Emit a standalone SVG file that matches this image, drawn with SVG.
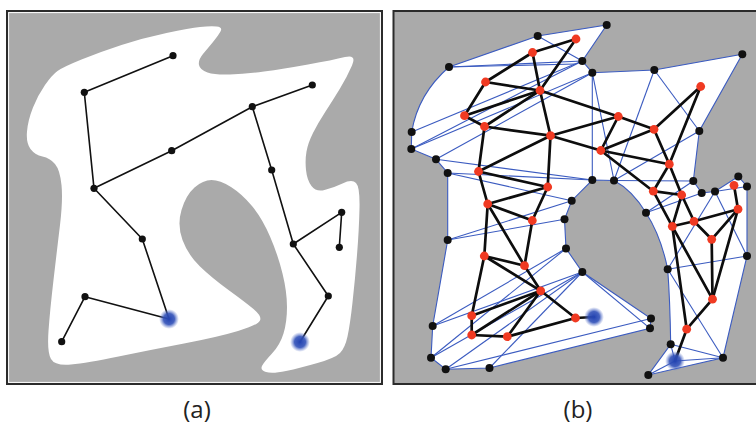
<svg xmlns="http://www.w3.org/2000/svg" width="756" height="430" viewBox="0 0 756 430">
<style>
.bg{fill:#aaaaaa;stroke:#2b2b2b;stroke-width:2}
.free{fill:#ffffff}
.ea{stroke:#111;stroke-width:1.6;fill:none;stroke-linecap:round}
.eb{stroke:#0d0d0d;stroke-width:2.7;fill:none;stroke-linecap:round}
.bl{stroke:#3b5bc0;stroke-width:1.1;fill:none}
.na{fill:#111}
.nb{fill:#111}
.nr{fill:#f03a22}
.lbl{font-family:"Open Sans","Liberation Sans",sans-serif;font-size:24px;fill:#222;text-anchor:middle}
</style>
<defs>
<radialGradient id="blob">
<stop offset="0" stop-color="#2444b2" stop-opacity="1"/>
<stop offset="0.55" stop-color="#3050b8" stop-opacity="0.9"/>
<stop offset="1" stop-color="#6a82d0" stop-opacity="0"/>
</radialGradient>
</defs>
<rect width="756" height="430" fill="#ffffff"/>

<!-- Panel (a) -->
<g id="panel-a">
<rect class="bg" x="7" y="11" width="375" height="373"/>
<rect x="8.6" y="12.6" width="371.8" height="369.8" fill="none" stroke="#ffffff" stroke-width="1"/>
<path class="free" d="M 216.5,26.5 Q 223,27 220.5,31.5 Q 218,36 213,42 Q 208,48 203,54 Q 198,60 199,65 Q 200,70 207.5,72.5 Q 215,75 230,74.5 Q 245,74 264,71.5 Q 283,69 308,64.5 Q 333,60 345,57 Q 357,54 352,65.5 Q 347,77 340,88.5 Q 333,100 325.5,111.5 Q 318,123 313,133 Q 308,143 306.5,151.5 Q 305,160 306,170 Q 307,180 311.5,186 Q 316,192 324.5,190 Q 333,188 342.5,183.5 Q 352,179 356,183 Q 360,187 359.5,208.5 Q 359,230 357,255 Q 355,280 352.5,302.5 Q 350,325 347.5,336.5 Q 345,348 340,353 Q 335,358 317.5,363 Q 300,368 286,371 Q 272,374 266,372 Q 260,370 262,366 Q 264,362 272,353.5 Q 280,345 283.5,333.5 Q 287,322 287,307 Q 287,292 282.5,273.5 Q 278,255 270,236.5 Q 262,218 252,206 Q 242,194 231,187 Q 220,180 211.5,180 Q 203,180 194.5,187.5 Q 186,195 181.5,210 Q 177,225 182.5,240 Q 188,255 200,266.5 Q 212,278 228.5,290 Q 245,302 253.5,309 Q 262,316 260,320.5 Q 258,325 238,331 Q 218,337 184,343.5 Q 150,350 118.5,356.5 Q 87,363 71,364.5 Q 55,366 51,359 Q 47,352 48.5,331 Q 50,310 53.5,280 Q 57,250 60,225 Q 63,200 61.5,185 Q 60,170 55,164 Q 50,158 42.5,156.5 Q 35,155 30.5,149 Q 26,143 27,131.5 Q 28,120 33,107.5 Q 38,95 45,85 Q 52,75 57.5,71 Q 63,67 81.5,59.5 Q 100,52 121.5,45 Q 143,38 166.5,33 Q 190,28 200,27 Q 210,26 216.5,26.5 Z"/>
<g id="connectors-a" class="ea">
<line x1="173" y1="55.7" x2="84.3" y2="92.3"/>
<line x1="84.3" y1="92.3" x2="94" y2="188.3"/>
<line x1="94" y1="188.3" x2="171.7" y2="150.7"/>
<line x1="171.7" y1="150.7" x2="252.3" y2="106.7"/>
<line x1="252.3" y1="106.7" x2="312.3" y2="85"/>
<line x1="252.3" y1="106.7" x2="271.7" y2="170"/>
<line x1="271.7" y1="170" x2="293.3" y2="244"/>
<line x1="293.3" y1="244" x2="341.7" y2="212.3"/>
<line x1="341.7" y1="212.3" x2="339.3" y2="247.3"/>
<line x1="293.3" y1="244" x2="328.3" y2="296"/>
<line x1="328.3" y1="296" x2="300" y2="342"/>
<line x1="94" y1="188.3" x2="142.3" y2="239"/>
<line x1="142.3" y1="239" x2="169" y2="319"/>
<line x1="169" y1="319" x2="85" y2="296.7"/>
<line x1="85" y1="296.7" x2="61.7" y2="341.7"/>
</g>
<g id="nodes-a" class="na">
<circle id="a1" cx="173" cy="55.7" r="3.6"/>
<circle id="a2" cx="84.3" cy="92.3" r="3.6"/>
<circle id="a3" cx="312.3" cy="85" r="3.6"/>
<circle id="a4" cx="252.3" cy="106.7" r="3.6"/>
<circle id="a5" cx="171.7" cy="150.7" r="3.6"/>
<circle id="a6" cx="94" cy="188.3" r="3.6"/>
<circle id="a7" cx="271.7" cy="170" r="3.6"/>
<circle id="a8" cx="142.3" cy="239" r="3.6"/>
<circle id="a9" cx="341.7" cy="212.3" r="3.6"/>
<circle id="a10" cx="339.3" cy="247.3" r="3.6"/>
<circle id="a11" cx="293.3" cy="244" r="3.6"/>
<circle id="a12" cx="328.3" cy="296" r="3.6"/>
<circle id="a13" cx="85" cy="296.7" r="3.6"/>
<circle id="a14" cx="61.7" cy="341.7" r="3.6"/>
<circle id="a-start" cx="169" cy="319" r="10" fill="url(#blob)"/>
<circle id="a-goal" cx="300" cy="342" r="10" fill="url(#blob)"/>
</g>
</g>

<!-- Panel (b) -->
<g id="panel-b">
<rect class="bg" x="393.5" y="11" width="380" height="373" stroke-width="2.5"/>
<path class="free" d="M 411.7,132 Q 418,94 449,67 L 537.7,36 L 606.7,25 L 582.3,61 L 592.3,72.7 L 654.3,70 L 742.3,54.3 L 699.3,131 L 693.3,181 L 701.7,193 L 715,191.5 L 738.3,176.5 L 747,186.5 L 747,256 L 723,357.7 L 648.3,375 L 670.7,344.3 Q 670,300 667.7,269.3 Q 661,236 646,212.7 Q 632,190 614,180.5 L 592.3,180 L 571.7,200.7 L 564.5,219.3 L 566,248.5 L 582.3,272 L 651,318.5 L 650,328.3 L 489.5,368 L 445.7,369.3 L 431,357.7 L 432.7,326 L 447.7,240 L 447.7,173 L 436,159.3 L 411.3,149 Z"/>
<g id="connectors-b">
<path class="bl" d="M 411.7,132 Q 418,94 449,67 L 537.7,36 L 606.7,25 L 582.3,61 L 592.3,72.7 L 654.3,70 L 742.3,54.3 L 699.3,131 L 693.3,181 L 701.7,193 L 715,191.5 L 738.3,176.5 L 747,186.5 L 747,256 L 723,357.7 L 648.3,375 L 670.7,344.3 Q 670,300 667.7,269.3 Q 661,236 646,212.7 Q 632,190 614,180.5 L 592.3,180 L 571.7,200.7 L 564.5,219.3 L 566,248.5 L 582.3,272 L 651,318.5 L 650,328.3 L 489.5,368 L 445.7,369.3 L 431,357.7 L 432.7,326 L 447.7,240 L 447.7,173 L 436,159.3 L 411.3,149 Z"/>
<g class="bl">
<line x1="537.7" y1="36" x2="582.3" y2="61"/>
<line x1="449" y1="67" x2="582.3" y2="61"/>
<line x1="449" y1="67" x2="576" y2="64"/>
<line x1="411.7" y1="132" x2="582.3" y2="61"/>
<line x1="411.3" y1="149" x2="582.3" y2="61"/>
<line x1="411.3" y1="149" x2="592.3" y2="72.7"/>
<line x1="436" y1="159.3" x2="592.3" y2="72.7"/>
<line x1="592.3" y1="72.7" x2="592.3" y2="180"/>
<line x1="592.3" y1="72.7" x2="614" y2="180.5"/>
<line x1="654.3" y1="70" x2="614" y2="180.5"/>
<line x1="654.3" y1="70" x2="699.3" y2="131"/>
<line x1="699.3" y1="131" x2="614" y2="180.5"/>
<line x1="436" y1="159.3" x2="592.3" y2="180"/>
<line x1="447.7" y1="173" x2="592.3" y2="180"/>
<line x1="447.7" y1="173" x2="571.7" y2="200.7"/>
<line x1="614" y1="180.5" x2="693.3" y2="181"/>
<line x1="646" y1="212.7" x2="693.3" y2="181"/>
<line x1="646" y1="212.7" x2="701.7" y2="193"/>
<line x1="667.7" y1="269.3" x2="715" y2="191.5"/>
<line x1="715" y1="191.5" x2="747" y2="256"/>
<line x1="715" y1="191.5" x2="747" y2="186.5"/>
<line x1="667.7" y1="269.3" x2="747" y2="256"/>
<line x1="667.7" y1="269.3" x2="723" y2="357.7"/>
<line x1="670.7" y1="344.3" x2="723" y2="357.7"/>
<line x1="675" y1="361" x2="723" y2="357.7"/>
<line x1="648.3" y1="375" x2="675" y2="361"/>
<line x1="670.7" y1="344.3" x2="675" y2="361"/>
<line x1="447.7" y1="240" x2="571.7" y2="200.7"/>
<line x1="447.7" y1="240" x2="564.5" y2="219.3"/>
<line x1="432.7" y1="326" x2="566" y2="248.5"/>
<line x1="432.7" y1="326" x2="582.3" y2="272"/>
<line x1="431" y1="357.7" x2="566" y2="248.5"/>
<line x1="431" y1="357.7" x2="582.3" y2="272"/>
<line x1="445.7" y1="369.3" x2="582.3" y2="272"/>
<line x1="489.5" y1="368" x2="582.3" y2="272"/>
<line x1="445.7" y1="369.3" x2="651" y2="318.5"/>
<line x1="582.3" y1="272" x2="650" y2="328.3"/>
</g>
<g class="eb">
<line x1="576" y1="39" x2="532.5" y2="52.5"/>
<line x1="576" y1="39" x2="540" y2="90.5"/>
<line x1="532.5" y1="52.5" x2="540" y2="90.5"/>
<line x1="532.5" y1="52.5" x2="485.5" y2="82"/>
<line x1="485.5" y1="82" x2="540" y2="90.5"/>
<line x1="485.5" y1="82" x2="464.5" y2="115.7"/>
<line x1="464.5" y1="115.7" x2="540" y2="90.5"/>
<line x1="484.5" y1="126.5" x2="540" y2="90.5"/>
<line x1="464.5" y1="115.7" x2="484.5" y2="126.5"/>
<line x1="540" y1="90.5" x2="550.5" y2="135.7"/>
<line x1="540" y1="90.5" x2="618.3" y2="116.5"/>
<line x1="618.3" y1="116.5" x2="654" y2="129.3"/>
<line x1="484.5" y1="126.5" x2="550.5" y2="135.7"/>
<line x1="484.5" y1="126.5" x2="478.5" y2="171.5"/>
<line x1="550.5" y1="135.7" x2="478.5" y2="171.5"/>
<line x1="550.5" y1="135.7" x2="547.7" y2="187"/>
<line x1="550.5" y1="135.7" x2="600.8" y2="150.5"/>
<line x1="550.5" y1="135.7" x2="618.3" y2="116.5"/>
<line x1="618.3" y1="116.5" x2="600.8" y2="150.5"/>
<line x1="600.8" y1="150.5" x2="654" y2="129.3"/>
<line x1="654" y1="129.3" x2="700.7" y2="86.5"/>
<line x1="700.7" y1="86.5" x2="669.3" y2="164.2"/>
<line x1="654" y1="129.3" x2="669.3" y2="164.2"/>
<line x1="600.8" y1="150.5" x2="669.3" y2="164.2"/>
<line x1="600.8" y1="150.5" x2="653.3" y2="191.2"/>
<line x1="669.3" y1="164.2" x2="653.3" y2="191.2"/>
<line x1="669.3" y1="164.2" x2="681.7" y2="195"/>
<line x1="653.3" y1="191.2" x2="681.7" y2="195"/>
<line x1="478.5" y1="171.5" x2="547.7" y2="187"/>
<line x1="478.5" y1="171.5" x2="487.7" y2="204"/>
<line x1="547.7" y1="187" x2="487.7" y2="204"/>
<line x1="547.7" y1="187" x2="532.3" y2="220.5"/>
<line x1="487.7" y1="204" x2="532.3" y2="220.5"/>
<line x1="487.7" y1="204" x2="484.3" y2="256"/>
<line x1="487.7" y1="204" x2="524.5" y2="265.7"/>
<line x1="532.3" y1="220.5" x2="524.5" y2="265.7"/>
<line x1="484.3" y1="256" x2="524.5" y2="265.7"/>
<line x1="484.3" y1="256" x2="540.7" y2="290.8"/>
<line x1="524.5" y1="265.7" x2="540.7" y2="290.8"/>
<line x1="484.3" y1="256" x2="471.7" y2="315.7"/>
<line x1="471.7" y1="315.7" x2="540.7" y2="290.8"/>
<line x1="471.7" y1="335" x2="540.7" y2="290.8"/>
<line x1="507.3" y1="336.7" x2="540.7" y2="290.8"/>
<line x1="471.7" y1="315.7" x2="471.7" y2="335"/>
<line x1="471.7" y1="335" x2="507.3" y2="336.7"/>
<line x1="540.7" y1="290.8" x2="575.5" y2="318"/>
<line x1="575.5" y1="318" x2="594" y2="317"/>
<line x1="507.3" y1="336.7" x2="575.5" y2="318"/>
<line x1="653.3" y1="191.2" x2="672.3" y2="226.3"/>
<line x1="681.7" y1="195" x2="672.3" y2="226.3"/>
<line x1="681.7" y1="195" x2="694" y2="221.3"/>
<line x1="672.3" y1="226.3" x2="694" y2="221.3"/>
<line x1="694" y1="221.3" x2="738" y2="209.2"/>
<line x1="738" y1="209.2" x2="734" y2="185.3"/>
<line x1="694" y1="221.3" x2="711.7" y2="239.3"/>
<line x1="738" y1="209.2" x2="711.7" y2="239.3"/>
<line x1="711.7" y1="239.3" x2="712.5" y2="299.2"/>
<line x1="738" y1="209.2" x2="712.5" y2="299.2"/>
<line x1="672.3" y1="226.3" x2="712.5" y2="299.2"/>
<line x1="672.3" y1="226.3" x2="686.7" y2="329.2"/>
<line x1="712.5" y1="299.2" x2="686.7" y2="329.2"/>
<line x1="686.7" y1="329.2" x2="675" y2="361"/>
</g>
</g>
<g id="nodes-b">
<g class="nb">
<circle id="b1" cx="606.7" cy="25" r="4"/>
<circle id="b2" cx="537.7" cy="36" r="4"/>
<circle id="b3" cx="449" cy="67" r="4"/>
<circle id="b4" cx="582.3" cy="61" r="4"/>
<circle id="b5" cx="592.3" cy="72.7" r="4"/>
<circle id="b6" cx="654.3" cy="70" r="4"/>
<circle id="b7" cx="742.3" cy="54.3" r="4"/>
<circle id="b8" cx="411.7" cy="132" r="4"/>
<circle id="b9" cx="411.3" cy="149" r="4"/>
<circle id="b10" cx="436" cy="159.3" r="4"/>
<circle id="b11" cx="447.7" cy="173" r="4"/>
<circle id="b12" cx="699.3" cy="131" r="4"/>
<circle id="b13" cx="592.3" cy="180" r="4"/>
<circle id="b14" cx="614" cy="180.5" r="4"/>
<circle id="b15" cx="693.3" cy="181" r="4"/>
<circle id="b16" cx="701.7" cy="193" r="4"/>
<circle id="b17" cx="715" cy="191.5" r="4"/>
<circle id="b18" cx="738.3" cy="176.5" r="4"/>
<circle id="b19" cx="747" cy="186.5" r="4"/>
<circle id="b20" cx="571.7" cy="200.7" r="4"/>
<circle id="b21" cx="564.5" cy="219.3" r="4"/>
<circle id="b22" cx="646" cy="212.7" r="4"/>
<circle id="b23" cx="447.7" cy="240" r="4"/>
<circle id="b24" cx="566" cy="248.5" r="4"/>
<circle id="b25" cx="747" cy="256" r="4"/>
<circle id="b26" cx="667.7" cy="269.3" r="4"/>
<circle id="b27" cx="582.3" cy="272" r="4"/>
<circle id="b28" cx="651" cy="318.5" r="4"/>
<circle id="b29" cx="650" cy="328.3" r="4"/>
<circle id="b30" cx="432.7" cy="326" r="4"/>
<circle id="b31" cx="670.7" cy="344.3" r="4"/>
<circle id="b32" cx="431" cy="357.7" r="4"/>
<circle id="b33" cx="445.7" cy="369.3" r="4"/>
<circle id="b34" cx="489.5" cy="368" r="4"/>
<circle id="b35" cx="723" cy="357.7" r="4"/>
<circle id="b36" cx="648.3" cy="375" r="4"/>
</g>
<g class="nr">
<circle id="r1" cx="576" cy="39" r="4.4"/>
<circle id="r2" cx="532.5" cy="52.5" r="4.4"/>
<circle id="r3" cx="485.5" cy="82" r="4.4"/>
<circle id="r4" cx="540" cy="90.5" r="4.4"/>
<circle id="r5" cx="464.5" cy="115.7" r="4.4"/>
<circle id="r6" cx="484.5" cy="126.5" r="4.4"/>
<circle id="r7" cx="550.5" cy="135.7" r="4.4"/>
<circle id="r8" cx="618.3" cy="116.5" r="4.4"/>
<circle id="r9" cx="700.7" cy="86.5" r="4.4"/>
<circle id="r10" cx="654" cy="129.3" r="4.4"/>
<circle id="r11" cx="600.8" cy="150.5" r="4.4"/>
<circle id="r12" cx="669.3" cy="164.2" r="4.4"/>
<circle id="r13" cx="478.5" cy="171.5" r="4.4"/>
<circle id="r14" cx="547.7" cy="187" r="4.4"/>
<circle id="r15" cx="653.3" cy="191.2" r="4.4"/>
<circle id="r16" cx="681.7" cy="195" r="4.4"/>
<circle id="r17" cx="734" cy="185.3" r="4.4"/>
<circle id="r18" cx="487.7" cy="204" r="4.4"/>
<circle id="r19" cx="532.3" cy="220.5" r="4.4"/>
<circle id="r20" cx="672.3" cy="226.3" r="4.4"/>
<circle id="r21" cx="694" cy="221.3" r="4.4"/>
<circle id="r22" cx="738" cy="209.2" r="4.4"/>
<circle id="r23" cx="711.7" cy="239.3" r="4.4"/>
<circle id="r24" cx="484.3" cy="256" r="4.4"/>
<circle id="r25" cx="524.5" cy="265.7" r="4.4"/>
<circle id="r26" cx="540.7" cy="290.8" r="4.4"/>
<circle id="r27" cx="712.5" cy="299.2" r="4.4"/>
<circle id="r28" cx="471.7" cy="315.7" r="4.4"/>
<circle id="r29" cx="575.5" cy="318" r="4.4"/>
<circle id="r30" cx="471.7" cy="335" r="4.4"/>
<circle id="r31" cx="507.3" cy="336.7" r="4.4"/>
<circle id="r32" cx="686.7" cy="329.2" r="4.4"/>
</g>
<circle id="b-start" cx="594" cy="317" r="10" fill="url(#blob)"/>
<circle id="b-goal" cx="675" cy="361" r="10" fill="url(#blob)"/>
</g>
</g>

<text class="lbl" x="197" y="418">(a)</text>
<text class="lbl" x="578" y="418">(b)</text>
</svg>
